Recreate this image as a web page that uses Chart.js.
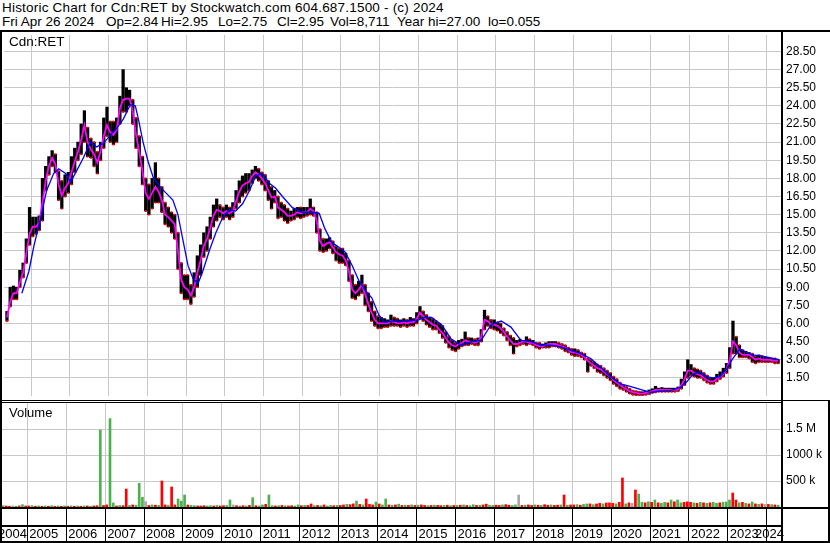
<!DOCTYPE html>
<html><head><meta charset="utf-8">
<script src="https://cdn.jsdelivr.net/npm/chart.js@4.4.1/dist/chart.umd.min.js"></script>
<style>
html,body{margin:0;padding:0;background:#fff;}
#wrap{position:relative;width:830px;height:543px;overflow:hidden;background:#fff;font-family:Arial,"Liberation Sans",sans-serif;}
.ln{position:absolute;background:#000;}
.txt{position:absolute;white-space:pre;color:#000;}
.h2{position:absolute;top:15px;white-space:pre;color:#000;font-size:13.5px;line-height:14px;}
canvas{position:absolute;}
</style></head><body>
<div id="wrap">
<div class="txt" style="left:2px;top:1px;font-size:13.5px;line-height:14px;letter-spacing:0.2px;">Historic Chart for Cdn:RET by Stockwatch.com 604.687.1500 - (c) 2024</div>
<div class="h2" style="left:2px">Fri Apr 26 2024</div>
<div class="h2" style="left:106px">Op=2.84</div>
<div class="h2" style="left:161px">Hi=2.95</div>
<div class="h2" style="left:218px">Lo=2.75</div>
<div class="h2" style="left:277px">Cl=2.95</div>
<div class="h2" style="left:330px">Vol=8,711</div>
<div class="h2" style="left:397px">Year hi=27.00</div>
<div class="h2" style="left:488px">lo=0.055</div>
<canvas id="price" width="830" height="369" style="left:0;top:31px"></canvas>
<canvas id="vol" width="830" height="104" style="left:0;top:403px"></canvas>
<canvas id="axis" width="830" height="34" style="left:0;top:509px"></canvas>
<div class="txt" style="left:9px;top:35px;font-size:13.5px;line-height:14px;">Cdn:RET</div>
<div class="txt" style="left:9px;top:406px;font-size:13px;line-height:14px;">Volume</div>
<div class="ln" style="left:0;top:30px;width:830px;height:2px"></div>
<div class="ln" style="left:0;top:31px;width:2px;height:512px"></div>
<div class="ln" style="left:781px;top:31px;width:2px;height:512px"></div>
<div class="ln" style="left:828px;top:400px;width:2px;height:143px"></div>
<div class="ln" style="left:0;top:400px;width:830px;height:1px"></div>
<div class="ln" style="left:0;top:402px;width:783px;height:1px"></div>
<div class="ln" style="left:0;top:507px;width:830px;height:2px"></div>
<div class="ln" style="left:0;top:525px;width:783px;height:2px"></div>
<div class="ln" style="left:0;top:541px;width:830px;height:2px"></div>
</div>
<script>
// ---------- DATA ----------
// monthly bars, May 2004 .. Apr 2024
const priceLow = [
6.2,7.4,8.0,8.0,9.0,9.8,11.0,12.5,
13.2,13.4,13.7,14.5,17.0,18.3,19.0,18.5,16.2,15.5,16.5,16.8,
17.5,18.5,19.5,20.0,21.0,19.8,19.7,19.0,18.4,19.5,20.5,21.5,
21.0,20.8,21.0,22.5,23.5,23.5,24.0,22.5,20.5,19.0,17.5,15.3,
15.0,15.5,16.0,16.0,15.2,14.2,14.0,13.5,13.0,10.5,8.5,8.0,
8.0,7.6,8.2,9.0,10.0,11.5,12.0,13.0,14.0,14.5,14.8,14.6,
14.8,14.6,14.8,15.5,16.0,16.5,16.8,17.0,17.6,18.0,17.8,17.5,
17.0,16.2,15.5,16.0,14.7,14.8,14.5,14.3,14.5,14.6,14.8,14.7,
14.8,14.9,15.0,14.9,13.5,12.0,11.9,12.0,12.2,11.8,11.2,11.0,
11.0,10.8,9.5,8.1,8.0,8.3,8.5,7.5,7.0,6.2,5.8,5.6,
5.6,5.7,5.7,5.8,5.8,5.8,5.7,5.8,5.7,5.8,5.8,6.0,
6.4,6.2,5.9,5.7,5.5,5.5,5.2,4.8,4.4,4.0,3.8,3.7,
3.9,4.1,4.2,4.2,4.3,4.2,4.2,4.5,5.5,5.8,5.6,5.5,
5.4,5.2,5.0,4.6,4.2,3.5,4.1,4.2,4.3,4.2,4.3,4.2,
4.0,3.9,4.0,4.0,4.0,4.1,4.1,4.0,3.9,3.7,3.6,3.4,
3.3,3.3,3.2,3.0,2.0,2.5,2.3,2.0,1.9,1.7,1.5,1.3,
1.0,0.8,0.6,0.5,0.35,0.2,0.1,0.06,0.06,0.06,0.1,0.15,
0.25,0.3,0.35,0.35,0.35,0.35,0.35,0.35,0.4,0.6,0.9,1.5,
1.7,1.6,1.5,1.5,1.3,1.1,1.0,1.0,1.2,1.4,1.6,1.9,
2.3,3.5,3.5,3.2,3.2,3.2,3.1,2.8,2.7,2.8,2.8,2.8,
2.8,2.8,2.7,2.7];
const priceHigh = [
7.0,9.0,9.1,9.0,10.4,11.0,13.0,15.6,
14.8,14.8,14.9,18.0,19.0,19.8,20.3,20.0,18.6,17.8,18.3,18.5,
19.8,20.5,21.0,22.5,23.6,22.2,21.3,21.0,20.2,21.0,23.0,23.9,
22.7,22.7,23.0,24.8,27.0,25.5,25.3,24.5,23.0,21.5,19.8,18.0,
17.5,18.0,19.3,18.0,17.3,16.0,15.6,15.2,15.0,13.5,11.0,10.0,
10.0,9.2,10.2,11.6,12.5,13.5,14.0,14.8,15.8,16.3,15.8,15.6,
15.8,15.6,16.0,17.0,17.8,18.2,18.4,18.4,18.7,19.0,18.8,18.5,
18.3,17.8,17.3,17.0,16.5,16.0,15.8,15.5,15.3,15.5,15.6,15.6,
15.6,15.6,16.3,15.6,15.2,13.8,13.0,13.0,13.1,12.8,12.4,12.2,
12.2,11.8,11.2,10.0,9.2,9.5,10.0,9.2,8.5,7.8,7.0,6.6,
6.5,6.4,6.3,6.7,6.5,6.4,6.3,6.4,6.3,6.5,6.4,6.9,
7.4,7.0,6.7,6.5,6.4,6.2,6.0,5.8,5.3,4.9,4.6,4.4,
4.6,4.7,5.3,4.8,4.8,4.7,4.8,5.5,7.1,6.6,6.3,6.3,
6.1,6.0,5.6,5.3,5.0,4.8,4.6,4.7,4.6,4.9,4.7,4.6,
4.4,4.4,4.3,4.4,4.5,4.5,4.5,4.4,4.3,4.2,4.0,3.9,
3.9,3.8,3.6,3.5,3.1,3.0,2.8,2.6,2.5,2.3,2.1,1.9,
1.6,1.4,1.1,0.9,0.75,0.6,0.45,0.4,0.35,0.35,0.4,0.5,
0.6,0.8,0.65,0.7,0.65,0.65,0.65,0.65,0.75,1.4,2.0,3.0,
2.6,2.3,2.2,2.1,1.9,1.7,1.5,1.5,1.8,2.0,2.3,2.7,
4.0,6.2,4.9,4.2,3.8,3.7,3.6,3.5,3.3,3.4,3.3,3.2,
3.2,3.1,3.1,3.0];
const priceAvgShort = [
6.5,7.8,8.5,8.5,9.4,10.2,11.8,13.4,
14.0,14.0,14.3,16.0,17.8,19.0,19.7,19.2,17.5,16.6,17.2,17.6,
18.5,19.4,20.2,21.2,22.4,21.0,20.4,20.0,19.3,20.2,21.5,22.4,
21.8,21.6,22.0,23.8,24.5,24.6,24.6,23.5,21.6,20.2,18.6,16.8,
16.3,16.8,17.3,16.9,16.2,15.0,14.8,14.5,14.2,12.0,9.6,9.0,
8.8,8.3,9.0,10.2,11.2,12.4,13.0,13.9,14.9,15.4,15.3,15.1,
15.3,15.1,15.3,16.1,16.9,17.4,17.6,17.7,18.2,18.5,18.3,18.0,
17.6,17.0,16.4,16.5,15.6,15.4,15.2,14.9,14.9,15.0,15.2,15.1,
15.2,15.2,15.5,15.3,14.5,12.8,12.4,12.6,12.7,12.3,11.9,11.7,
11.6,11.2,10.3,8.8,8.5,8.8,9.2,8.4,7.6,6.9,6.3,6.0,
6.0,6.0,6.0,6.2,6.1,6.0,6.0,6.1,6.0,6.1,6.1,6.4,
6.9,6.6,6.3,6.1,5.9,5.8,5.5,5.2,4.8,4.4,4.2,4.1,
4.3,4.4,4.6,4.5,4.5,4.4,4.5,4.9,6.3,6.2,5.9,5.9,
5.8,5.6,5.3,4.9,4.6,4.3,4.3,4.4,4.5,4.5,4.4,4.4,
4.2,4.1,4.1,4.2,4.3,4.3,4.3,4.2,4.1,4.0,3.8,3.6,
3.6,3.5,3.4,3.2,2.9,2.7,2.5,2.3,2.2,2.0,1.8,1.6,
1.3,1.1,0.9,0.7,0.55,0.4,0.3,0.25,0.2,0.2,0.25,0.3,
0.4,0.5,0.5,0.5,0.5,0.5,0.5,0.5,0.55,0.9,1.4,2.1,
2.1,1.9,1.8,1.7,1.5,1.3,1.2,1.2,1.4,1.6,1.8,2.2,
3.0,4.5,4.2,3.6,3.4,3.4,3.4,3.2,3.0,3.1,3.0,3.0,
3.0,2.95,2.9,2.9];
// long moving average (blue), read at its own dates
const longAvgDates = [2004.76,2004.94,2005.07,2005.25,2005.40,2005.58,2005.71,2005.89,2006.02,2006.17,2006.35,2006.53,2006.69,2006.87,
2007.05,2007.20,2007.38,2007.56,2007.69,2007.77,2007.89,2008.02,2008.15,2008.33,2008.48,2008.66,2008.79,2008.92,
2009.05,2009.18,2009.31,2009.43,2009.61,2009.77,2009.95,2010.13,2010.28,2010.46,2010.64,2010.80,2010.97,
2011.15,2011.31,2011.49,2011.74,2012.00,2012.26,2012.44,2012.59,2012.77,2012.95,2013.11,2013.29,2013.47,2013.62,2013.80,2013.98,
2014.13,2014.31,2014.65,2015.01,2015.16,2015.34,2015.60,2015.85,2016.11,2016.37,2016.62,2016.88,2017.14,2017.39,2017.65,2017.91,
2018.16,2018.42,2018.68,2018.93,2019.19,2019.45,2019.70,2019.96,2020.22,2020.47,2020.73,2020.99,2021.24,2021.50,2021.76,2021.94,
2022.09,2022.27,2022.45,2022.60,2022.78,2022.96,2023.12,2023.30,2023.48,2023.63,2023.89,2024.32];
const longAvgValues = [8.5,10.3,12.4,14.8,17.0,18.4,18.8,18.4,17.7,18.6,19.7,21.0,20.6,20.9,
21.6,22.1,22.9,24.1,24.0,22.9,21.0,19.4,18.1,17.3,16.8,16.2,15.0,12.9,
10.8,9.7,9.3,10.3,12.1,13.5,14.8,15.4,15.3,15.9,17.0,18.2,18.4,
17.6,17.2,16.5,15.6,15.2,15.2,15.1,13.8,12.7,12.3,11.9,10.8,9.5,8.8,8.1,6.7,
6.1,6.2,6.2,6.3,6.5,6.5,5.9,4.7,4.2,4.5,4.6,5.9,6.2,5.7,4.6,4.5,
4.2,4.2,4.06,3.8,3.5,3.1,2.4,1.6,1.0,0.8,0.55,0.3,0.4,0.45,0.7,1.2,
1.8,2.0,1.6,1.5,1.6,2.2,3.1,3.9,3.6,3.4,3.3,3.0];
// monthly volume (thousands) and direction: u=up, d=down, n=unchanged
const volumeK = [
25,20,15,20,15,20,45,20,
20,25,15,20,15,20,15,25,15,20,15,20,
15,20,15,20,15,20,20,15,20,25,1480,30,
40,1700,77,20,30,25,346,30,40,35,455,186,
103,30,40,35,30,500,40,30,385,40,154,115,
231,38,30,25,20,20,25,20,25,20,30,20,
25,30,135,40,25,20,25,20,30,179,25,20,
40,50,231,25,20,25,30,25,20,25,20,40,
25,30,30,58,25,30,25,40,20,30,25,30,
30,40,50,45,60,115,50,40,154,50,40,96,
58,40,154,40,35,40,55,30,35,30,40,30,
35,40,30,25,30,35,30,25,30,35,25,30,
30,35,40,30,25,45,30,35,40,55,35,30,
35,30,40,45,35,30,40,231,30,35,40,30,
40,35,30,45,35,40,30,35,40,231,35,40,
40,45,35,50,58,60,45,58,70,60,77,80,
70,60,90,558,60,80,70,327,250,90,80,100,
90,135,80,70,90,80,135,100,135,80,90,100,
90,80,70,90,80,70,80,90,70,80,90,96,
135,269,135,80,90,70,60,96,60,50,60,50,
50,45,40,35];
const volumeDir = [
"uddnudud",
"dudududududu",
"dududududdud",
"duududduduuu",
"ndududdudduu",
"uduuddduudud",
"duundudududu",
"uduudududduu",
"duddududuudu",
"dduddududddu",
"duududududud",
"uddududdudud",
"ududuududduu",
"ddudduundudd",
"ududduddudud",
"duduududdudd",
"duddudnduudu",
"duduududuudd",
"dudududuuduu",
"uddududududn",
"dudu"].join("");
const priceTicks = [1.5,3,4.5,6,7.5,9,10.5,12,13.5,15,16.5,18,19.5,21,22.5,24,25.5,27,28.5];
const volumeTicks = [500000,1000000,1500000];
const volumeTickLabels = ["500 k","1000 k","1.5 M"];
const yearLabels = ["2004","2005","2006","2007","2008","2009","2010","2011","2012","2013","2014","2015","2016","2017","2018","2019","2020","2021","2022","2023","2024"];

// ---------- BUILD ----------
const X_MIN = 2004.2986, X_MAX = 2024.3655;
const monthX = priceLow.map((_, i) => { const m = 4 + i; return Math.floor(m / 12) + 2004 + ((m % 12) + 0.5) / 12; });
const yearGrid = yearLabels.slice(1).map(Number);
const FONT = "Arial, 'Liberation Sans', sans-serif";
Chart.defaults.font.family = FONT;
Chart.defaults.animation = false;
const GRID = "#c8c8c8";
const dirColor = c => c === "u" ? "#4cb04c" : c === "d" ? "#ff0000" : "#a8a8a8";

function xScale(gridColor) {
  return {
    type: "linear", min: X_MIN, max: X_MAX, offset: false,
    afterBuildTicks: s => { s.ticks = yearGrid.map(v => ({ value: v })); },
    afterFit: s => { s.height = 0; s.paddingLeft = 0; s.paddingRight = 0; s.paddingTop = 0; s.paddingBottom = 0; },
    ticks: { display: false },
    grid: { color: gridColor, lineWidth: 1, drawTicks: false, offset: false },
    border: { display: false }
  };
}
function yFit(s) { s.width = 49; s.paddingTop = 0; s.paddingBottom = 0; s.paddingLeft = 0; s.paddingRight = 0; }
const noPlug = { legend: { display: false }, tooltip: { enabled: false } };

new Chart(document.getElementById("price"), {
  type: "bar",
  data: {
    datasets: [
      { type: "line", label: "long", data: longAvgDates.map((x, i) => ({ x, y: longAvgValues[i] })),
        borderColor: "#0000ff", borderWidth: 1.3, pointRadius: 0, tension: 0, order: 1 },
      { type: "line", label: "short", data: monthX.map((x, i) => ({ x, y: priceAvgShort[i] })),
        borderColor: "#ff00ff", borderWidth: 1.8, pointRadius: 0, tension: 0, order: 2 },
      { type: "scatter", label: "ticksLow", data: monthX.map((x, i) => ({ x, y: priceLow[i] })),
        backgroundColor: "#ff0000", borderWidth: 0, pointStyle: "rect", pointRadius: 1.3, order: 3 },
      { type: "scatter", label: "ticksHigh", data: monthX.map((x, i) => ({ x, y: priceHigh[i] })),
        backgroundColor: monthX.map((_, i) => (i > 0 && priceAvgShort[i] < priceAvgShort[i - 1]) ? "#ff0000" : "rgba(0,0,0,0)"),
        borderWidth: 0, pointStyle: "rect", pointRadius: 1.3, order: 3 },
      { type: "bar", label: "range", data: monthX.map((x, i) => ({ x, y: [priceLow[i], priceHigh[i]] })),
        backgroundColor: "#000000", barThickness: 2.6, order: 4 }
    ]
  },
  options: {
    responsive: false, maintainAspectRatio: false,
    layout: { padding: 0 },
    plugins: noPlug,
    scales: {
      x: xScale(GRID),
      y: {
        position: "right", min: 0, max: 29.86,
        afterBuildTicks: s => { s.ticks = priceTicks.map(v => ({ value: v })); },
        afterFit: yFit,
        ticks: { color: "#000", font: { size: 12, family: FONT }, padding: 5, callback: v => Number(v).toFixed(2) },
        grid: { color: GRID, drawTicks: false },
        border: { display: false }
      }
    }
  }
});

new Chart(document.getElementById("vol"), {
  type: "bar",
  data: {
    datasets: [{ data: monthX.map((x, i) => ({ x, y: volumeK[i] * 1000 })),
      backgroundColor: monthX.map((_, i) => dirColor(volumeDir[i])), barThickness: 2 }]
  },
  options: {
    responsive: false, maintainAspectRatio: false, layout: { padding: 0 }, plugins: noPlug,
    scales: {
      x: xScale(GRID),
      y: {
        position: "right", min: 0, max: 2000000,
        afterBuildTicks: s => { s.ticks = volumeTicks.map(v => ({ value: v })); },
        afterFit: yFit,
        ticks: { color: "#000", font: { size: 12, family: FONT }, padding: 5,
          callback: v => volumeTickLabels[volumeTicks.indexOf(v)] },
        grid: { color: GRID, drawTicks: false },
        border: { display: false }
      }
    }
  }
});

const yearLabelPlugin = {
  id: "yearLabels",
  afterDraw(chart) {
    const ctx = chart.ctx, xs = chart.scales.x;
    ctx.save();
    ctx.font = "13px " + FONT; ctx.fillStyle = "#000"; ctx.textBaseline = "middle";
    yearLabels.forEach(lbl => {
      const w = ctx.measureText(lbl).width;
      let px = xs.getPixelForValue(Number(lbl)) + 2;
      if (px < -2) px = -2;
      if (px + w > 784) px = 784 - w;
      ctx.fillText(lbl, px, 25);
    });
    ctx.restore();
  }
};
new Chart(document.getElementById("axis"), {
  type: "scatter",
  data: { datasets: [{ data: [] }] },
  options: {
    responsive: false, maintainAspectRatio: false, layout: { padding: { right: 49 } }, plugins: noPlug,
    scales: { x: xScale("#000"), y: { display: false, min: 0, max: 1 } }
  },
  plugins: [yearLabelPlugin]
});
</script>
</body></html>
